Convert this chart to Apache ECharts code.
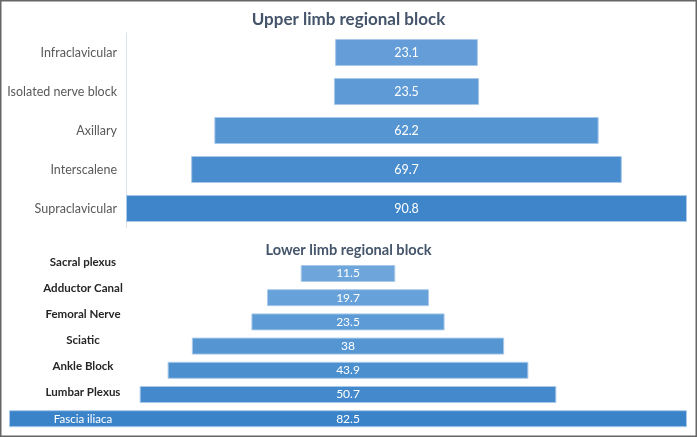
<!DOCTYPE html>
<html>
<head>
<meta charset="utf-8">
<script src="https://cdn.jsdelivr.net/npm/echarts@6/dist/echarts.min.js"></script>
<style>
  html, body { margin: 0; padding: 0; background: #fff; }
  #chart { width: 697px; height: 437px; }
</style>
</head>
<body>
<div id="chart"></div>
<script>
// upper limb
const upperCats = ["Infraclavicular", "Isolated nerve block", "Axillary", "Interscalene", "Supraclavicular"];
const upperVals = [23.1, 23.5, 62.2, 69.7, 90.8];
// lower limb
const lowerCats = ["Sacral plexus", "Adductor Canal", "Femoral Nerve", "Sciatic", "Ankle Block", "Lumbar Plexus", "Fascia iliaca"];
const lowerVals = [11.5, 19.7, 23.5, 38, 43.9, 50.7, 82.5];

const upperColors = ["#649dd8", "#5e9ad6", "#5495d2", "#498dce", "#3e86c9"];
const lowerColors = ["#6ea6db", "#66a1d9", "#5d9bd6", "#5495d2", "#4b8fcf", "#4389cc", "#3b83c8"];

const upperMax = Math.max(...upperVals);
const lowerMax = Math.max(...lowerVals);
const fontFamily = "Lato";

const chart = echarts.init(document.getElementById("chart"));

function pad(vals, max) {
  return vals.map(v => (max - v) / 2);
}
function colored(vals, colors) {
  return vals.map((v, i) => ({ value: v, itemStyle: { color: colors[i] } }));
}

const option = {
  animation: false,
  textStyle: { fontFamily: fontFamily },
  graphic: [{
    type: "rect",
    shape: { x: 0.75, y: 0.75, width: 695.5, height: 435.5 },
    style: { fill: "none", stroke: "#666666", lineWidth: 1.5 },
    z: 100
  }],
  title: [
    {
      text: "Upper limb regional block",
      left: "center",
      top: 6,
      textStyle: { fontSize: 17, fontWeight: "bold", color: "#44546a", fontFamily: fontFamily }
    },
    {
      text: "Lower limb regional block",
      left: "center",
      top: 238,
      textStyle: { fontSize: 14.6, fontWeight: "bold", color: "#44546a", fontFamily: fontFamily }
    }
  ],
  grid: [
    { left: 126, right: 10, top: 33, height: 195 },
    { left: 9, right: 10, top: 261.4, height: 169.4 },
    { left: 83, width: 1, top: 249, height: 183 }
  ],
  xAxis: [
    { gridIndex: 0, type: "value", min: 0, max: upperMax, show: false },
    { gridIndex: 1, type: "value", min: 0, max: lowerMax, show: false },
    { gridIndex: 2, type: "value", min: 0, max: 1, show: false }
  ],
  yAxis: [
    {
      gridIndex: 0,
      type: "category",
      inverse: true,
      data: upperCats,
      axisLine: { show: true, lineStyle: { color: "#dde3ea", width: 1 } },
      axisTick: { show: false },
      axisLabel: { color: "#595959", fontSize: 12.5, margin: 9, fontFamily: fontFamily }
    },
    {
      gridIndex: 1,
      type: "category",
      inverse: true,
      data: lowerCats,
      show: false
    },
    {
      gridIndex: 2,
      type: "category",
      inverse: true,
      data: lowerCats,
      z: 10,
      axisLine: { show: false },
      axisTick: { show: false },
      axisLabel: {
        align: "center",
        margin: 0,
        color: "#262626",
        fontSize: 11.5,
        fontWeight: "bold",
        fontFamily: fontFamily,
        formatter: (v, i) => i === lowerCats.length - 1 ? "{w|" + v + "}" : v,
        rich: { w: { color: "#ffffff", fontSize: 11.5, fontWeight: "normal", fontFamily: fontFamily } }
      }
    }
  ],
  series: [
    {
      type: "bar", xAxisIndex: 0, yAxisIndex: 0, stack: "up",
      data: pad(upperVals, upperMax),
      itemStyle: { color: "transparent" },
      barWidth: 27,
      silent: true
    },
    {
      type: "bar", xAxisIndex: 0, yAxisIndex: 0, stack: "up",
      data: colored(upperVals, upperColors),
      barWidth: 27,
      itemStyle: { borderColor: "#a9c9ea", borderWidth: 1 },
      label: { show: true, position: "inside", color: "#fff", fontSize: 12.5, fontFamily: fontFamily }
    },
    {
      type: "bar", xAxisIndex: 1, yAxisIndex: 1, stack: "low",
      data: pad(lowerVals, lowerMax),
      itemStyle: { color: "transparent" },
      barWidth: 17,
      silent: true
    },
    {
      type: "bar", xAxisIndex: 1, yAxisIndex: 1, stack: "low",
      data: colored(lowerVals, lowerColors),
      barWidth: 17,
      itemStyle: { borderColor: "#a9c9ea", borderWidth: 1 },
      label: { show: true, position: "inside", color: "#fff", fontSize: 12, fontFamily: fontFamily }
    }
  ]
};

chart.setOption(option);
</script>
</body>
</html>
